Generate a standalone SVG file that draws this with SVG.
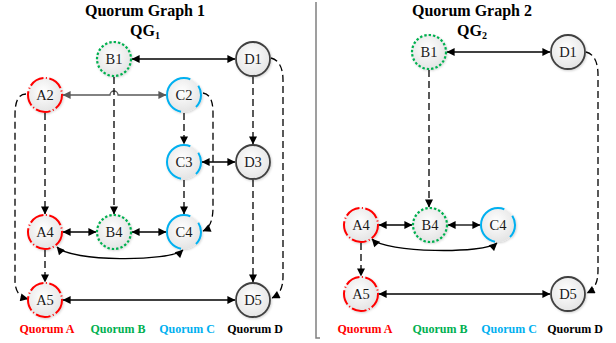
<svg xmlns="http://www.w3.org/2000/svg" width="616" height="343" viewBox="0 0 616 343">
<style>
.title{font-family:"Liberation Serif","Times New Roman",serif;font-weight:bold;font-size:16px;fill:#000;text-anchor:middle}
.sub{font-size:10px}
.lbl{font-family:"Liberation Serif","Times New Roman",serif;font-size:14.5px;fill:#1a1a1a;text-anchor:middle}
.leg{font-family:"Liberation Serif","Times New Roman",serif;font-weight:bold;font-size:12px;text-anchor:middle}
.node circle{fill:url(#nodeFill);stroke-width:2;filter:url(#sh)}
.qa circle{stroke:#ff0000;stroke-dasharray:15 2.5 1 2.5}
.qb circle{stroke:#00b050;stroke-width:2.2;stroke-dasharray:2.4 2}
.qc circle{stroke:#00b0f0;stroke-dasharray:23.7 16.3 56.4 10.4;stroke-dashoffset:10.4}
.qd circle{stroke:#404040;stroke-width:1.8}
.solid{fill:none;stroke:#000;stroke-width:1.3;marker-start:url(#arr);marker-end:url(#arr)}
.solidg{fill:none;stroke:#595959;stroke-width:1.3;marker-start:url(#arrg);marker-end:url(#arrg)}
.dash{fill:none;stroke:#000;stroke-width:1.3;stroke-dasharray:7 4;marker-end:url(#arr)}
</style>
<defs>
<radialGradient id="nodeFill" cx="0.45" cy="0.4" r="0.65">
<stop offset="0" stop-color="#ffffff"/>
<stop offset="1" stop-color="#e2e2e2"/>
</radialGradient>
<filter id="sh" x="-30%" y="-30%" width="160%" height="160%">
<feDropShadow dx="0.8" dy="1" stdDeviation="0.8" flood-color="#000" flood-opacity="0.18"/>
</filter>
<marker id="arr" viewBox="0 0 10 10" refX="9.5" refY="5" markerWidth="9" markerHeight="8" markerUnits="userSpaceOnUse" orient="auto-start-reverse">
<path d="M0,0 L10,5 L0,10 z" fill="#000"/>
</marker>
<marker id="arrg" viewBox="0 0 10 10" refX="9.5" refY="5" markerWidth="9" markerHeight="8" markerUnits="userSpaceOnUse" orient="auto-start-reverse">
<path d="M0,0 L10,5 L0,10 z" fill="#595959"/>
</marker>
</defs>
<rect width="616" height="343" fill="#ffffff"/>

<!-- titles -->
<text class="title" x="145" y="16">Quorum Graph 1</text>
<text class="title" x="145" y="36">QG<tspan class="sub" dy="3">1</tspan></text>
<text class="title" x="472" y="16">Quorum Graph 2</text>
<text class="title" x="472" y="36">QG<tspan class="sub" dy="3">2</tspan></text>

<!-- divider -->
<path d="M316,2 V338 H320" fill="none" stroke="#808080" stroke-width="1.5"/>

<!-- connectors -->
<g id="connectors">
<!-- graph 1 -->
<path class="solid" d="M132,59 H235"/>
<path class="solidg" d="M63,95 H110 A4,4 0 0 1 118,95 H166"/>
<path class="dash" d="M114,77 V214"/>
<path class="dash" d="M45,113 V214"/>
<path class="dash" d="M184,113 V144"/>
<path class="dash" d="M184,180 V214"/>
<path class="dash" d="M253,77 V144"/>
<path class="dash" d="M253,180 V282"/>
<path class="solid" d="M202,162 H235"/>
<path class="solid" d="M63,232 H96"/>
<path class="solid" d="M132,232 H166"/>
<path class="solid" d="M57,247 C70,262 170,262 183,250"/>
<path class="dash" d="M45,250 V282"/>
<path class="solid" d="M63,300 H235"/>
<path class="dash" d="M26,94 C18,94 15,102 15,115 L15,280 C15,291 19,297 28,299"/>
<path class="dash" d="M203,93 C210,94 213,101 213,113 L213,207 C213,220 210,228 203,231"/>
<path class="dash" d="M271,58 C279,60 283,68 283,80 L283,276 C283,288 280,294 272,298"/>
<!-- graph 2 -->
<path class="solid" d="M447,52 H550"/>
<path class="dash" d="M429,70 V207"/>
<path class="solid" d="M379,225 H412"/>
<path class="solid" d="M448,225 H480"/>
<path class="solid" d="M372,239 C385,253 485,254 497,243"/>
<path class="dash" d="M361,243 V276"/>
<path class="solid" d="M379,294 H550"/>
<path class="dash" d="M586,52 C594,54 598,62 598,75 L598,270 C598,282 595,289 587,293"/>
</g>

<!-- graph 1 nodes -->
<g id="g1-B1" class="node qb"><circle cx="114" cy="59" r="17"/><text class="lbl" x="114" y="64">B1</text></g>
<g id="g1-D1" class="node qd"><circle cx="253" cy="59" r="17"/><text class="lbl" x="253" y="64">D1</text></g>
<g id="g1-A2" class="node qa"><circle cx="45" cy="95" r="17"/><text class="lbl" x="45" y="100">A2</text></g>
<g id="g1-C2" class="node qc"><circle cx="184" cy="95" r="17"/><text class="lbl" x="184" y="100">C2</text></g>
<g id="g1-C3" class="node qc"><circle cx="184" cy="162" r="17"/><text class="lbl" x="184" y="167">C3</text></g>
<g id="g1-D3" class="node qd"><circle cx="253" cy="162" r="17"/><text class="lbl" x="253" y="167">D3</text></g>
<g id="g1-A4" class="node qa"><circle cx="45" cy="232" r="17"/><text class="lbl" x="45" y="237">A4</text></g>
<g id="g1-B4" class="node qb"><circle cx="114" cy="232" r="17"/><text class="lbl" x="114" y="237">B4</text></g>
<g id="g1-C4" class="node qc"><circle cx="184" cy="232" r="17"/><text class="lbl" x="184" y="237">C4</text></g>
<g id="g1-A5" class="node qa"><circle cx="45" cy="300" r="17"/><text class="lbl" x="45" y="305">A5</text></g>
<g id="g1-D5" class="node qd"><circle cx="253" cy="300" r="17"/><text class="lbl" x="253" y="305">D5</text></g>

<!-- graph 2 nodes -->
<g id="g2-B1" class="node qb"><circle cx="429" cy="52" r="17"/><text class="lbl" x="429" y="57">B1</text></g>
<g id="g2-D1" class="node qd"><circle cx="568" cy="52" r="17"/><text class="lbl" x="568" y="57">D1</text></g>
<g id="g2-A4" class="node qa"><circle cx="361" cy="225" r="17"/><text class="lbl" x="361" y="230">A4</text></g>
<g id="g2-B4" class="node qb"><circle cx="430" cy="225" r="17"/><text class="lbl" x="430" y="230">B4</text></g>
<g id="g2-C4" class="node qc"><circle cx="498" cy="225" r="17"/><text class="lbl" x="498" y="230">C4</text></g>
<g id="g2-A5" class="node qa"><circle cx="361" cy="294" r="17"/><text class="lbl" x="361" y="299">A5</text></g>
<g id="g2-D5" class="node qd"><circle cx="568" cy="294" r="17"/><text class="lbl" x="568" y="299">D5</text></g>

<!-- legends -->
<g id="legend1">
<text class="leg" x="47" y="333" fill="#ff0000">Quorum A</text>
<text class="leg" x="118" y="333" fill="#00b050">Quorum B</text>
<text class="leg" x="187" y="333" fill="#00b0f0">Quorum C</text>
<text class="leg" x="255" y="333" fill="#000000">Quorum D</text>
</g>
<g id="legend2">
<text class="leg" x="365" y="333" fill="#ff0000">Quorum A</text>
<text class="leg" x="440" y="333" fill="#00b050">Quorum B</text>
<text class="leg" x="509" y="333" fill="#00b0f0">Quorum C</text>
<text class="leg" x="575" y="333" fill="#000000">Quorum D</text>
</g>
</svg>
